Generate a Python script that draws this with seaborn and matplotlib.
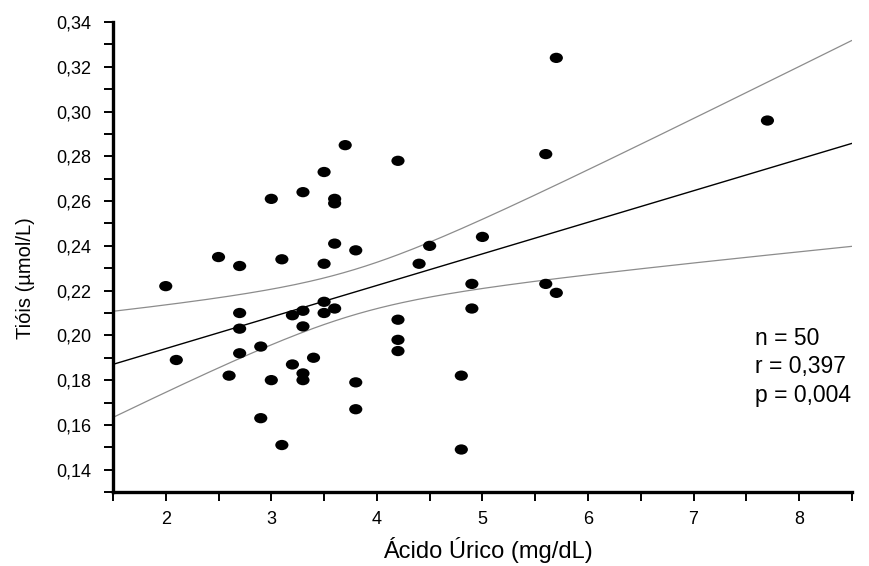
import numpy as np
import pandas as pd
import matplotlib
matplotlib.use("Agg")
import matplotlib.pyplot as plt
from matplotlib.path import Path
from matplotlib.ticker import MultipleLocator, FuncFormatter
import seaborn as sns

# Data
acido_urico = [2.0, 2.1, 2.5, 2.6, 2.7, 2.7, 2.7, 2.7, 2.9, 2.9,
               3.0, 3.0, 3.1, 3.1, 3.2, 3.2, 3.3, 3.3, 3.3, 3.3,
               3.3, 3.4, 3.5, 3.5, 3.5, 3.5, 3.6, 3.6, 3.6, 3.6,
               3.7, 3.8, 3.8, 3.8, 4.2, 4.2, 4.2, 4.2, 4.4, 4.5,
               4.8, 4.8, 4.9, 4.9, 5.0, 5.6, 5.6, 5.7, 5.7, 7.7]
tiois = [0.222, 0.189, 0.235, 0.182, 0.231, 0.210, 0.203, 0.192, 0.195, 0.163,
         0.261, 0.180, 0.234, 0.151, 0.209, 0.187, 0.264, 0.211, 0.204, 0.183,
         0.180, 0.190, 0.273, 0.232, 0.215, 0.210, 0.261, 0.259, 0.241, 0.212,
         0.285, 0.238, 0.179, 0.167, 0.278, 0.207, 0.198, 0.193, 0.232, 0.240,
         0.182, 0.149, 0.223, 0.212, 0.244, 0.281, 0.223, 0.324, 0.219, 0.296]
stats_text = ["n = 50", "r = 0,397", "p = 0,004"]
x_ticks = [2, 3, 4, 5, 6, 7, 8]
y_ticks = [0.14, 0.16, 0.18, 0.20, 0.22, 0.24, 0.26, 0.28, 0.30, 0.32, 0.34]

df = pd.DataFrame({"x": acido_urico, "y": tiois})

# Linear fit and 95% confidence band of the mean
x = np.asarray(acido_urico)
y = np.asarray(tiois)
n = len(x)
b, a = np.polyfit(x, y, 1)
resid = y - (a + b * x)
s = np.sqrt(np.sum(resid ** 2) / (n - 2))
sxx = np.sum((x - x.mean()) ** 2)
t = 2.0106
xs = np.linspace(1.5, 8.5, 200)
yfit = a + b * xs
half = t * s * np.sqrt(1.0 / n + (xs - x.mean()) ** 2 / sxx)
fit_df = pd.DataFrame({"x": xs, "fit": yfit, "lo": yfit - half, "hi": yfit + half})

sns.set_style("ticks")
plt.rcParams["font.family"] = ["Liberation Sans", "DejaVu Sans"]
plt.rcParams["text.color"] = "black"
plt.rcParams["axes.labelcolor"] = "black"
plt.rcParams["xtick.color"] = "black"
plt.rcParams["ytick.color"] = "black"

fig = plt.figure(figsize=(8.69, 5.66), dpi=100)
ax = fig.add_axes([0.13, 0.1307, 0.8503, 0.8303])

sns.lineplot(data=fit_df, x="x", y="hi", ax=ax, color="#8c8c8c", linewidth=0.9)
sns.lineplot(data=fit_df, x="x", y="lo", ax=ax, color="#8c8c8c", linewidth=0.9)
sns.lineplot(data=fit_df, x="x", y="fit", ax=ax, color="black", linewidth=1.0)

circ = Path.unit_circle()
ellipse = Path(circ.vertices * np.array([1.0, 0.78]), circ.codes)
sns.scatterplot(data=df, x="x", y="y", ax=ax, marker=ellipse, s=90,
                color="black", edgecolor="none", zorder=5)

ax.set_xlim(1.5, 8.5)
ax.set_ylim(0.13, 0.34)
ax.set_xticks(x_ticks)
ax.set_yticks(y_ticks)
ax.xaxis.set_minor_locator(MultipleLocator(0.5))
ax.yaxis.set_minor_locator(MultipleLocator(0.01))
ax.yaxis.set_major_formatter(FuncFormatter(lambda v, p: f"{v:.2f}".replace(".", ",")))
ax.xaxis.set_major_formatter(FuncFormatter(lambda v, p: f"{v:g}"))

for side in ["top", "right"]:
    ax.spines[side].set_visible(False)
for side in ["left", "bottom"]:
    ax.spines[side].set_linewidth(2.4)
    ax.spines[side].set_color("black")

ax.tick_params(axis="both", which="both", direction="out", length=6.5, width=1.4,
               color="black", labelcolor="black")
ax.tick_params(axis="y", labelsize=13, pad=9)
ax.tick_params(axis="x", labelsize=13, pad=7)

ax.set_xlabel("Ácido Úrico (mg/dL)", fontsize=17)
ax.xaxis.set_label_coords(0.508, -0.095)
ax.set_ylabel("Tióis (µmol/L)", fontsize=14.5)
ax.yaxis.set_label_coords(-0.105, 0.455)

ax.text(7.58, 0.186, "\n".join(stats_text), fontsize=16.5, ha="left",
        va="center", linespacing=1.3)

fig.savefig("out.png", dpi=100)
